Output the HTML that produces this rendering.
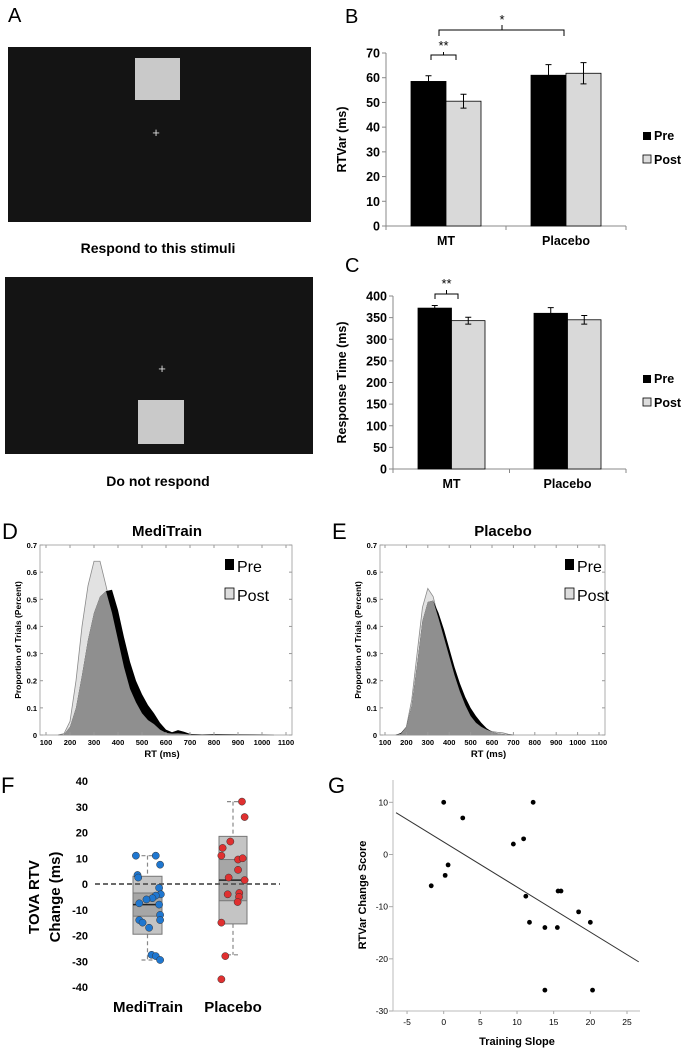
<!DOCTYPE html>
<html><head><meta charset="utf-8"><style>
body{margin:0;background:#fff;width:683px;height:1050px;overflow:hidden}
svg{font-family:"Liberation Sans",sans-serif;display:block}
.b{font-weight:bold}
</style></head><body>
<svg id="fig" width="683" height="1050" viewBox="0 0 683 1050">
<g>
<text x="8" y="22" font-size="20">A</text>
<rect x="8" y="47" width="303" height="175" fill="#141414"/>
<rect x="135" y="58" width="45" height="42" fill="#c9c9c9"/>
<text x="156" y="137" font-size="13" fill="#ddd" text-anchor="middle">+</text>
<text x="158" y="253" font-size="14" class="b" text-anchor="middle">Respond to this stimuli</text>
<rect x="5" y="277" width="308" height="177" fill="#141414"/>
<rect x="138" y="400" width="46" height="44" fill="#c9c9c9"/>
<text x="162" y="373" font-size="13" fill="#ddd" text-anchor="middle">+</text>
<text x="158" y="486" font-size="14" class="b" text-anchor="middle">Do not respond</text>
</g>
<g id="pB"></g>
<g id="pC"></g>
<g id="pD"></g>
<g id="pE"></g>
<g id="pF"></g>
<g id="pG"></g>
</svg>
<script>
// ---- Data ----
const barGroups = ["MT", "Placebo"];
const rtvarPre = [58.5, 61];
const rtvarPost = [50.5, 61.8];
const rtvarPreErr = [2.3, 4.3];
const rtvarPostErr = [2.8, 4.3];
const rtvarTicks = [0,10,20,30,40,50,60,70];
const rtPre = [372, 360];
const rtPost = [343, 345];
const rtPreErr = [6, 13];
const rtPostErr = [8, 10];
const rtTicks = [0,50,100,150,200,250,300,350,400];

const mtGrid = [150,175,200,225,250,275,300,325,350,375,400,425,450,475,500,525,550,575,600,625,650,675,700,750,800,900,1000,1050];
const mtPostDens = [0,0.005,0.05,0.2,0.4,0.55,0.64,0.64,0.55,0.45,0.35,0.25,0.17,0.12,0.08,0.055,0.04,0.02,0.008,0.005,0.006,0.004,0.002,0.001,0.001,0,0,0];
const mtPreDens = [0,0.002,0.03,0.1,0.22,0.35,0.45,0.51,0.53,0.535,0.46,0.36,0.27,0.2,0.15,0.11,0.08,0.045,0.02,0.01,0.018,0.012,0.004,0.002,0.003,0.002,0.001,0];
const plGrid = [150,175,200,225,250,275,300,325,350,375,400,425,450,475,500,525,550,575,600,625,650,675,700];
const plPostDens = [0,0.005,0.03,0.13,0.3,0.47,0.54,0.51,0.43,0.36,0.29,0.22,0.16,0.11,0.07,0.045,0.03,0.02,0.013,0.01,0.008,0.003,0];
const plPreDens = [0,0.008,0.03,0.11,0.26,0.42,0.49,0.495,0.45,0.39,0.32,0.25,0.19,0.14,0.10,0.07,0.045,0.025,0.012,0.006,0.003,0.001,0];
const densXTicks = [100,200,300,400,500,600,700,800,900,1000,1100];
const densYTicks = [0,0.1,0.2,0.3,0.4,0.5,0.6,0.7];

const boxGroups = ["MediTrain","Placebo"];
const boxQ1 = [-19.5, -15.5];
const boxQ3 = [3, 18.5];
const boxInnerLo = [-12.5, -6.5];
const boxInnerHi = [-3.5, 9.5];
const boxMedian = [-8, 1.5];
const whiskLo = [-29.5, -27.5];
const whiskHi = [11, 32];
const mtChange = [11,11,7.5,3.5,2.5,-1.5,-4,-4.5,-5.5,-6,-7.5,-8,-12,-14,-14,-15,-17,-27.5,-28,-29.5];
const mtJitter = [-0.8,0.57,0.87,-0.69,-0.64,0.8,0.92,0.57,0.34,-0.07,-0.57,0.8,0.87,0.87,-0.57,-0.34,0.11,0.28,0.57,0.87];
const plChange = [32,26,16.5,14,11,9.5,10,5.5,2.5,1.5,-4,-3.5,-5,-7,-15,-28,-37];
const plJitter = [0.64,0.83,-0.19,-0.74,-0.83,0.36,0.69,0.36,-0.31,0.83,-0.38,0.45,0.43,0.33,-0.83,-0.55,-0.83];
const boxTicks = [40,30,20,10,0,-10,-20,-30,-40];

const slopeX = [0,12.2,2.6,9.5,10.9,0.6,0.2,-1.7,11.2,15.6,16,18.4,20,11.7,13.8,15.5,13.8,20.3];
const slopeY = [10,10,7,2,3,-2,-4,-6,-8,-7,-7,-11,-13,-13,-14,-14,-26,-26];
const fitIntercept = 2.4;
const fitSlope = -0.864;
const scatXTicks = [-5,0,5,10,15,20,25];
const scatYTicks = [10,0,-10,-20,-30];

// ---- helpers ----
const NS="http://www.w3.org/2000/svg";
function mk(parent, tag, attrs, txt){const e=document.createElementNS(NS,tag);for(const k in attrs)e.setAttribute(k,attrs[k]);if(txt!==undefined)e.textContent=txt;parent.appendChild(e);return e;}
function lin(d0,d1,r0,r1){return v=>r0+(v-d0)*(r1-r0)/(d1-d0);}

// ---- bar panels ----
function barPanel(g, cfg){
  const y=lin(0,cfg.max,cfg.y0,cfg.y1);
  let t=mk(g,'text',{x:345,y:cfg.letterY,'font-size':20});t.textContent=cfg.letter;
  
  let ax=mk(g,'line',{x1:cfg.xL,x2:cfg.xL,y1:cfg.y0,y2:cfg.y1,stroke:'#888'});
  
  let bx=mk(g,'line',{x1:cfg.xL,x2:626,y1:cfg.y0,y2:cfg.y0,stroke:'#888'});
  
  [cfg.xL,cfg.xL+(626-cfg.xL)/2,626].forEach(xx=>mk(g,'line',{x1:xx,x2:xx,y1:cfg.y0,y2:cfg.y0+4,stroke:'#888'}));
  cfg.ticks.forEach(v=>{
    mk(g,'line',{x1:cfg.xL-4,x2:cfg.xL,y1:y(v),y2:y(v),stroke:'#888'});
    let l=mk(g,'text',{x:cfg.xL-6,y:y(v)+4.5,'font-size':12.5,'text-anchor':'end',class:'b'},v);
    
  });
  let yt=mk(g,'text',{x:0,y:0,'font-size':12.5,class:'b','text-anchor':'middle',transform:`translate(${cfg.titleX},${(cfg.y0+cfg.y1)/2}) rotate(-90)`},cfg.title);
  
  barGroups.forEach((grp,i)=>{
    const xs=cfg.barX[i], w=cfg.bw;
    [[cfg.pre,cfg.preErr,'#000','pre'],[cfg.post,cfg.postErr,'#d9d9d9','post']].forEach((s,j)=>{
      const v=s[0][i],e=s[1][i],x0=xs+j*w;
      let r=mk(g,'rect',{x:x0,y:y(v),width:w,height:cfg.y0-y(v),fill:s[2],stroke:'#000','stroke-width':0.8});
      
      const cx=x0+w/2;
      let eb=mk(g,'path',{d:`M${cx},${y(v+e)}V${y(v-e)}M${cx-3},${y(v+e)}H${cx+3}M${cx-3},${y(v-e)}H${cx+3}`,stroke:'#000','stroke-width':1,fill:'none'});
      
    });
    let xl=mk(g,'text',{x:xs+w,y:cfg.y0+19,'font-size':12.5,class:'b','text-anchor':'middle'},grp);
    
  });
  let lp=mk(g,'rect',{x:643,y:cfg.legY-5,width:8,height:8,fill:'#000'});
  
  let lt=mk(g,'text',{x:654,y:cfg.legY+3,'font-size':12.5,class:'b'},'Pre');
  
  let lq=mk(g,'rect',{x:643,y:cfg.legY+18,width:8,height:8,fill:'#ddd',stroke:'#000','stroke-width':0.8});
  
  let lu=mk(g,'text',{x:654,y:cfg.legY+27,'font-size':12.5,class:'b'},'Post');
  
}
const gB=document.getElementById('pB');
barPanel(gB,{letter:'B',letterY:23,y0:226,y1:53,max:70,xL:386,ticks:rtvarTicks,title:'RTVar (ms)',titleX:346,
  barX:[411,531],bw:35,pre:rtvarPre,post:rtvarPost,preErr:rtvarPreErr,postErr:rtvarPostErr,legY:137});
let s1=mk(gB,'path',{d:'M431,60V55H443.5V52M443.5,55H456V60',stroke:'#000',fill:'none'});

let s1t=mk(gB,'text',{x:443.5,y:50,'font-size':13,'text-anchor':'middle'},'**');

let s2=mk(gB,'path',{d:'M439,36V30H502V25M502,30H564V36',stroke:'#000',fill:'none'});

let s2t=mk(gB,'text',{x:502,y:24,'font-size':13,'text-anchor':'middle'},'*');


const gC=document.getElementById('pC');
barPanel(gC,{letter:'C',letterY:272,y0:469,y1:296,max:400,xL:393,ticks:rtTicks,title:'Response Time (ms)',titleX:346,
  barX:[418,534],bw:33.5,pre:rtPre,post:rtPost,preErr:rtPreErr,postErr:rtPostErr,legY:380});
let s3=mk(gC,'path',{d:'M435,299V294H446.5V290M446.5,294H458V299',stroke:'#000',fill:'none'});

let s3t=mk(gC,'text',{x:446.5,y:288,'font-size':13,'text-anchor':'middle'},'**');


// ---- density panels ----
function densPanel(g,cfg){
  const x=lin(100,1100,cfg.x100,cfg.x1100), y=lin(0,0.7,735,545);
  let L=mk(g,'text',{x:cfg.letterX,y:539,'font-size':22},cfg.letter);
  
  let T=mk(g,'text',{x:cfg.titleCx,y:536,'font-size':15,class:'b','text-anchor':'middle'},cfg.title);
  
  let fr=mk(g,'rect',{x:cfg.boxL,y:545,width:cfg.boxR-cfg.boxL,height:190,fill:'#fff',stroke:'#999','stroke-width':0.8});
  
  const area=(vals)=>{let d=`M${x(cfg.grid[0])},${y(0)}`;cfg.grid.forEach((gx,i)=>d+=`L${x(gx)},${y(vals[i])}`);return d+`L${x(cfg.grid[cfg.grid.length-1])},${y(0)}Z`;};
  let a1=mk(g,'path',{d:area(cfg.post),fill:'#e2e2e2',stroke:'#8a8a8a','stroke-width':0.8});
  
  let a2=mk(g,'path',{d:area(cfg.pre),fill:'#000'});
  
  const ov=cfg.pre.map((v,i)=>Math.min(v,cfg.post[i]));
  let a3=mk(g,'path',{d:area(ov),fill:'#8f8f8f'});
  
  densXTicks.forEach(v=>{
    mk(g,'line',{x1:x(v),x2:x(v),y1:735,y2:732,stroke:'#999'});
    mk(g,'line',{x1:x(v),x2:x(v),y1:545,y2:548,stroke:'#999'});
    let t=mk(g,'text',{x:x(v),y:745,'font-size':7.5,class:'b','text-anchor':'middle'},v);
    
  });
  densYTicks.forEach(v=>{
    mk(g,'line',{x1:cfg.boxL,x2:cfg.boxL+3,y1:y(v),y2:y(v),stroke:'#999'});
    mk(g,'line',{x1:cfg.boxR-3,x2:cfg.boxR,y1:y(v),y2:y(v),stroke:'#999'});
    let t=mk(g,'text',{x:cfg.boxL-3,y:y(v)+3,'font-size':7.5,class:'b','text-anchor':'end'},v);
    
  });
  let xt=mk(g,'text',{x:(cfg.boxL+cfg.boxR)/2-4,y:757,'font-size':9.5,class:'b','text-anchor':'middle'},'RT (ms)');
  
  let yt=mk(g,'text',{x:0,y:0,'font-size':8.5,class:'b','text-anchor':'middle',transform:`translate(${cfg.boxL-19},640) rotate(-90)`},'Proportion of Trials (Percent)');
  
  const lx=cfg.legX;
  let r1=mk(g,'rect',{x:lx,y:559,width:9,height:11,fill:'#000'});
  
  let t1=mk(g,'text',{x:lx+12,y:572,'font-size':16},'Pre');
  
  let r2=mk(g,'rect',{x:lx,y:588,width:9,height:11,fill:'#ddd',stroke:'#000','stroke-width':0.8});
  
  let t2=mk(g,'text',{x:lx+12,y:601,'font-size':16},'Post');
  
}
densPanel(document.getElementById('pD'),{letter:'D',letterX:2,title:'MediTrain',titleCx:167,x100:46,x1100:286,boxL:40,boxR:292,grid:mtGrid,pre:mtPreDens,post:mtPostDens,legX:225});
densPanel(document.getElementById('pE'),{letter:'E',letterX:332,title:'Placebo',titleCx:503,x100:385,x1100:599,boxL:380,boxR:605,grid:plGrid,pre:plPreDens,post:plPostDens,legX:565});

// ---- box panel F ----
(function(){
  const g=document.getElementById('pF'); const y=lin(0,-40,884,987);
  let L=mk(g,'text',{x:1,y:793,'font-size':22},'F');
  boxTicks.forEach(v=>{let t=mk(g,'text',{x:88,y:y(v)+4,'font-size':11,class:'b','text-anchor':'end'},v);
    });
  let yt=mk(g,'text',{x:0,y:0,'font-size':15,class:'b','text-anchor':'middle',transform:'translate(39,897) rotate(-90)'},'TOVA RTV');
  
  let yt2=mk(g,'text',{x:0,y:0,'font-size':15,class:'b','text-anchor':'middle',transform:'translate(60,897) rotate(-90)'},'Change (ms)');
  
  const bl=[133,219], bw=[29,28], cols=['#1f77d0','#e03030'];
  const vals=[mtChange,plChange], jit=[mtJitter,plJitter];
  boxGroups.forEach((grp,i)=>{
    const cx=bl[i]+bw[i]/2;
    let w=mk(g,'path',{d:`M${cx},${y(whiskHi[i])}V${y(boxQ3[i])}M${cx},${y(boxQ1[i])}V${y(whiskLo[i])}M${cx-6},${y(whiskHi[i])}H${cx+6}M${cx-6},${y(whiskLo[i])}H${cx+6}`,stroke:'#888','stroke-width':1.2,'stroke-dasharray':'4,3',fill:'none'});
    
    let b=mk(g,'rect',{x:bl[i],y:y(boxQ3[i]),width:bw[i],height:y(boxQ1[i])-y(boxQ3[i]),fill:'#c4c4c4',stroke:'#777'});
    
    let bi=mk(g,'rect',{x:bl[i],y:y(boxInnerHi[i]),width:bw[i],height:y(boxInnerLo[i])-y(boxInnerHi[i]),fill:'#a6a6a6',stroke:'#777'});
    
    let m=mk(g,'line',{x1:bl[i],x2:bl[i]+bw[i],y1:y(boxMedian[i]),y2:y(boxMedian[i]),stroke:'#222','stroke-width':1.5});
    
    let xl=mk(g,'text',{x:[148,233][i],y:1012,'font-size':15,class:'b','text-anchor':'middle'},grp);
    
  });
  let z=mk(g,'line',{x1:95,x2:280,y1:y(0),y2:y(0),stroke:'#555','stroke-width':1.8,'stroke-dasharray':'5,3'});
  
  boxGroups.forEach((grp,i)=>{
    const cx=bl[i]+bw[i]/2, hw=bw[i]/2;
    vals[i].forEach((v,k)=>{
      let c=mk(g,'circle',{cx:cx+jit[i][k]*hw,cy:y(v),r:3.6,fill:cols[i],stroke:'#333','stroke-width':0.5});
      
    });
  });
})();

// ---- scatter G ----
(function(){
  const g=document.getElementById('pG'); const x=lin(0,25,443.7,627), y=lin(0,-30,854.5,1011);
  let L=mk(g,'text',{x:328,y:793,'font-size':22},'G');
  let ax=mk(g,'path',{d:`M393,780V1011H640`,stroke:'#bbb',fill:'none'});
  
  scatXTicks.forEach(v=>{mk(g,'line',{x1:x(v),x2:x(v),y1:1011,y2:1014,stroke:'#aaa'});
    let t=mk(g,'text',{x:x(v),y:1025,'font-size':8.5,'text-anchor':'middle'},v);
    });
  scatYTicks.forEach(v=>{mk(g,'line',{x1:389,x2:393,y1:y(v),y2:y(v),stroke:'#aaa'});
    let t=mk(g,'text',{x:388,y:y(v)+3,'font-size':8.5,'text-anchor':'end'},v);
    });
  let xt=mk(g,'text',{x:517,y:1045,'font-size':11,class:'b','text-anchor':'middle'},'Training Slope');
  
  let yt=mk(g,'text',{x:0,y:0,'font-size':11,class:'b','text-anchor':'middle',transform:'translate(366,895) rotate(-90)'},'RTVar Change Score');
  
  const xa=-6.5, xb=26.6;
  let fl=mk(g,'line',{x1:x(xa),y1:y(fitIntercept+fitSlope*xa),x2:x(xb),y2:y(fitIntercept+fitSlope*xb),stroke:'#333','stroke-width':1});
  
  slopeX.forEach((v,i)=>{let c=mk(g,'circle',{cx:x(v),cy:y(slopeY[i]),r:2.4,fill:'#000'});
    });
})();
</script>
</body></html>
